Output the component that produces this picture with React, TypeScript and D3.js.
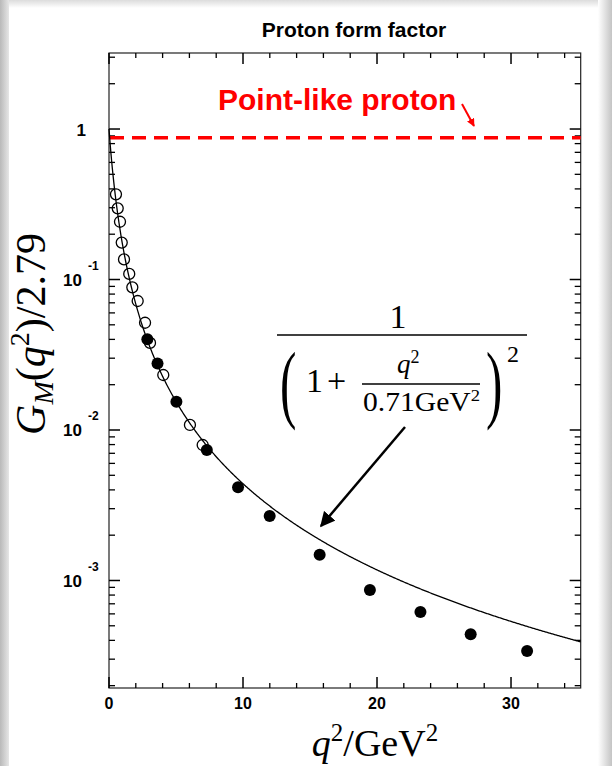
import React from 'react';
import * as d3 from 'd3';

const W = 612;
const H = 766;

// axes
const X_DOMAIN: [number, number] = [0, 35.2];
const Y_DOMAIN: [number, number] = [3.2, 1.93e-4];
const X_MAJOR = [0, 10, 20, 30];
const X_MINOR = [2, 4, 6, 8, 12, 14, 16, 18, 22, 24, 26, 28, 32, 34];
const Y_MAJOR = [1, 0.1, 0.01, 0.001];
const Y_LABEL_BASE = ['1', '10', '10', '10'];
const Y_LABEL_EXP = ['', '-1', '-2', '-3'];

// data: open circles (low q^2), filled circles (high q^2)
const OPEN_Q2 = [0.52, 0.65, 0.82, 0.95, 1.12, 1.51, 1.74, 2.14, 2.69, 3.06, 4.05, 6.04, 6.99];
const OPEN_G = [0.368, 0.297, 0.242, 0.176, 0.136, 0.109, 0.0887, 0.072, 0.0516, 0.0379, 0.0232, 0.0108, 0.00795];
const FILLED_Q2 = [2.86, 3.62, 5.03, 7.3, 9.63, 11.99, 15.72, 19.47, 23.24, 26.99, 31.2];
const FILLED_G = [0.0401, 0.0277, 0.0154, 0.00736, 0.00416, 0.00268, 0.00148, 0.000865, 0.000618, 0.00044, 0.00034];

// dipole fit parameter (GeV^2) and point-like reference level
const DIPOLE_MASS2 = 0.71;
const POINT_LIKE_LEVEL = 0.875;

const SANS = '"Liberation Sans", Arial, sans-serif';
const SERIF = '"Liberation Serif", "Times New Roman", serif';

export default function App() {
  const left = 109, right = 580.7, top = 53, bottom = 688;
  const x = d3.scaleLinear().domain(X_DOMAIN).range([left, right]);
  const y = d3.scaleLog().domain(Y_DOMAIN).range([top, bottom]);

  const yMinor: number[] = [];
  for (let e = -4; e <= 0; e++) {
    for (let k = 2; k <= 9; k++) {
      const v = k * Math.pow(10, e);
      if (v <= Y_DOMAIN[0] && v >= Y_DOMAIN[1]) yMinor.push(v);
    }
  }

  const curveQ = d3.range(X_DOMAIN[0], X_DOMAIN[1] + 0.001, 0.05);
  const line = d3
    .line<number>()
    .x((q) => x(q))
    .y((q) => y(1 / Math.pow(1 + q / DIPOLE_MASS2, 2)));

  const ptY = y(POINT_LIKE_LEVEL);

  return (
    <svg
      width={W}
      height={H}
      viewBox={`0 0 ${W} ${H}`}
      style={{ position: 'absolute', left: 0, top: 0, display: 'block' }}
    >
      <defs>
        <linearGradient id="lg" x1="0" x2="1" y1="0" y2="0">
          <stop offset="0" stopColor="#b9b9b9" />
          <stop offset="1" stopColor="#e6e6e6" />
        </linearGradient>
        <linearGradient id="rg" x1="0" x2="1" y1="0" y2="0">
          <stop offset="0" stopColor="#ffffff" />
          <stop offset="1" stopColor="#c4c4c4" />
        </linearGradient>
        <linearGradient id="tg" x1="0" x2="0" y1="0" y2="1">
          <stop offset="0" stopColor="#dcdcdc" />
          <stop offset="1" stopColor="#ffffff" />
        </linearGradient>
        <marker id="ah" viewBox="0 0 10 10" refX="9" refY="5" markerWidth="6" markerHeight="6" orient="auto">
          <path d="M0,0 L10,5 L0,10 z" fill="#000" />
        </marker>
        <marker id="ahr" viewBox="0 0 10 10" refX="9" refY="5" markerWidth="4" markerHeight="4" orient="auto">
          <path d="M0,0 L10,5 L0,10 z" fill="#f00" />
        </marker>
      </defs>

      {/* background */}
      <rect x={0} y={0} width={W} height={H} fill="#fff" />
      <rect x={0} y={0} width={W} height={8} fill="url(#tg)" />
      <rect x={0} y={0} width={9} height={H} fill="url(#lg)" />
      <rect x={598} y={0} width={14} height={H} fill="url(#rg)" />

      {/* title */}
      <text x={354} y={37} textAnchor="middle" fontFamily={SANS} fontWeight="bold" fontSize={21} fill="#000">
        Proton form factor
      </text>

      {/* frame */}
      <rect x={left} y={top} width={right - left} height={bottom - top} fill="none" stroke="#222" strokeWidth={1.2} />

      {/* x ticks */}
      {X_MAJOR.map((v) => (
        <g key={'xm' + v}>
          <line x1={x(v)} x2={x(v)} y1={bottom} y2={bottom - 11} stroke="#000" strokeWidth={1.5} />
          <line x1={x(v)} x2={x(v)} y1={top} y2={top + 11} stroke="#000" strokeWidth={1.5} />
          <text x={x(v)} y={709} textAnchor="middle" fontFamily={SANS} fontWeight="bold" fontSize={16} fill="#000">
            {v}
          </text>
        </g>
      ))}
      {X_MINOR.map((v) => (
        <g key={'xn' + v}>
          <line x1={x(v)} x2={x(v)} y1={bottom} y2={bottom - 5} stroke="#000" strokeWidth={1.3} />
          <line x1={x(v)} x2={x(v)} y1={top} y2={top + 5} stroke="#000" strokeWidth={1.3} />
        </g>
      ))}

      {/* y ticks */}
      {Y_MAJOR.map((v, i) => (
        <g key={'ym' + v}>
          <line x1={left} x2={left + 11} y1={y(v)} y2={y(v)} stroke="#000" strokeWidth={1.5} />
          <line x1={right} x2={right - 11} y1={y(v)} y2={y(v)} stroke="#000" strokeWidth={1.5} />
          <text x={i === 0 ? 86 : 82} y={y(v) + 6.5} textAnchor="end" fontFamily={SANS} fontWeight="bold" fontSize={17} fill="#000">
            {Y_LABEL_BASE[i]}
          </text>
          {Y_LABEL_EXP[i] && (
            <text x={88} y={y(v) - 9.5} textAnchor="start" fontFamily={SANS} fontWeight="bold" fontSize={12} fill="#000">
              {Y_LABEL_EXP[i]}
            </text>
          )}
        </g>
      ))}
      {yMinor.map((v) => (
        <g key={'yn' + v}>
          <line x1={left} x2={left + 6} y1={y(v)} y2={y(v)} stroke="#000" strokeWidth={1.3} />
          <line x1={right} x2={right - 6} y1={y(v)} y2={y(v)} stroke="#000" strokeWidth={1.3} />
        </g>
      ))}

      {/* point-like level */}
      <line x1={left + 1} x2={right} y1={ptY} y2={ptY} stroke="#f00" strokeWidth={3.5} strokeDasharray="14 8" />
      <text x={218} y={110} fontFamily={SANS} fontWeight="bold" fontSize={30} fill="#f00">
        Point-like proton
      </text>
      <line x1={462} y1={104} x2={474} y2={126} stroke="#f00" strokeWidth={2} markerEnd="url(#ahr)" />

      {/* open circles */}
      {OPEN_Q2.map((q, i) => (
        <circle key={'o' + i} cx={x(q)} cy={y(OPEN_G[i])} r={5.5} fill="none" stroke="#000" strokeWidth={1.3} />
      ))}

      {/* dipole curve */}
      <path d={line(curveQ) || ''} fill="none" stroke="#000" strokeWidth={1.3} />

      {/* filled circles */}
      {FILLED_Q2.map((q, i) => (
        <circle key={'f' + i} cx={x(q)} cy={y(FILLED_G[i])} r={6} fill="#000" />
      ))}

      {/* formula */}
      <g fontFamily={SERIF} fill="#000">
        <text x={398} y={328} textAnchor="middle" fontSize={34}>1</text>
        <line x1={277} x2={527} y1={335} y2={335} stroke="#000" strokeWidth={1.6} />
        <text transform="translate(280,412) scale(0.6,1.05)" fontSize={82}>(</text>
        <text x={306} y={392} fontSize={34}>1</text>
        <text x={327} y={392} fontSize={34}>+</text>
        <text x={397} y={373} fontSize={27}>
          <tspan fontStyle="italic">q</tspan>
          <tspan dy={-10} fontSize={18}>2</tspan>
        </text>
        <line x1={362} x2={480} y1={384} y2={384} stroke="#000" strokeWidth={1.3} />
        <text x={363} y={411} fontSize={27} textLength={117} lengthAdjust="spacingAndGlyphs">
          0.71GeV<tspan dy={-10} fontSize={17}>2</tspan>
        </text>
        <text transform="translate(486,412) scale(0.6,1.05)" fontSize={82}>)</text>
        <text x={507} y={362} fontSize={24}>2</text>
      </g>
      <line x1={405} y1={427} x2={321} y2={526} stroke="#000" strokeWidth={2.5} markerEnd="url(#ah)" />

      {/* axis titles */}
      <text x={375} y={756} textAnchor="middle" fontFamily={SERIF} fontSize={38} fill="#000">
        <tspan fontStyle="italic">q</tspan>
        <tspan dy={-15} fontSize={25}>2</tspan>
        <tspan dy={15}>/GeV</tspan>
        <tspan dy={-15} fontSize={25}>2</tspan>
      </text>
      <text transform="translate(45,334) rotate(-90)" textAnchor="middle" fontFamily={SERIF} fontSize={42} fill="#000">
        <tspan fontStyle="italic">G</tspan>
        <tspan dy={8} fontSize={28} fontStyle="italic">M</tspan>
        <tspan dy={-8}>(</tspan>
        <tspan fontStyle="italic">q</tspan>
        <tspan dy={-16} fontSize={28}>2</tspan>
        <tspan dy={16}>)/2.79</tspan>
      </text>
    </svg>
  );
}
